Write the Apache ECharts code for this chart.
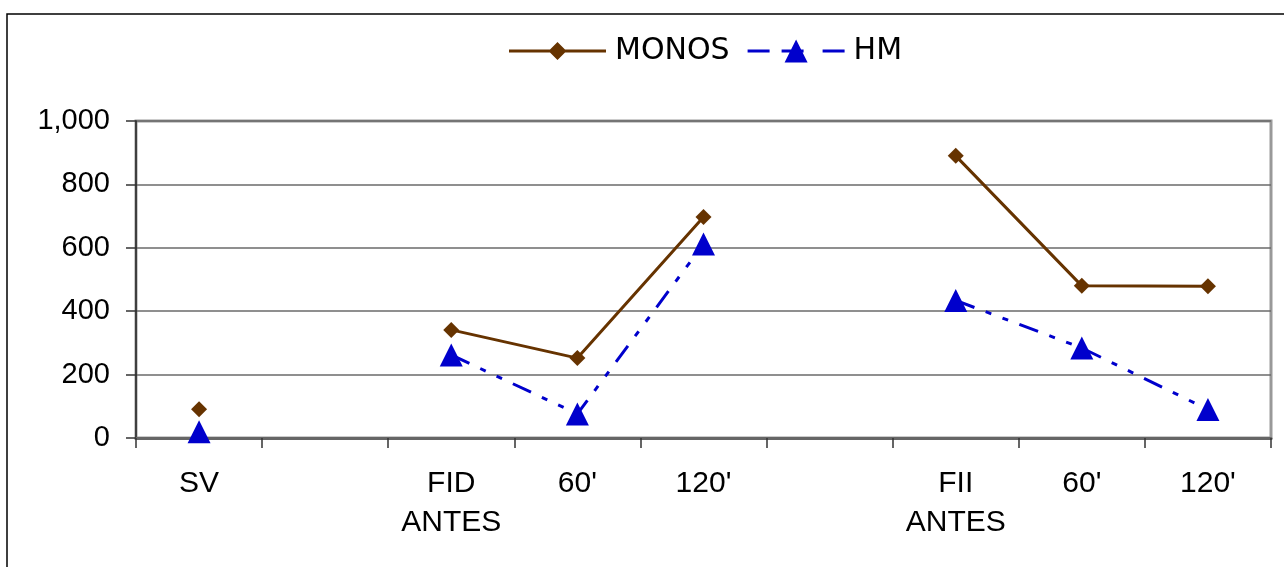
<!DOCTYPE html>
<html>
<head>
<meta charset="utf-8">
<title>MONOS / HM</title>
<script src="https://cdn.jsdelivr.net/npm/echarts@6/dist/echarts.min.js"></script>
<style>
  html, body { margin: 0; padding: 0; background: #fff; }
  #chart { width: 1284px; height: 567px; }
</style>
</head>
<body>
<div id="chart"></div>
<script>
// categorias del eje X (las vacias separan los grupos)
const categories = ['SV', '', 'FID\nANTES', "60'", "120'", '', 'FII\nANTES', "60'", "120'"];

// valores
const monos = [91, null, 341, 252, 697, null, 890, 480, 479];
const hm = [20, null, 262, 76, 612, null, 434, 284, 90];

// eje Y
const yMin = 0;
const yMax = 1000;
const yStep = 200;

const chart = echarts.init(document.getElementById('chart'));

const axisFont = 'Liberation Sans, Arial, sans-serif';

// iconos de la leyenda (linea + marcador), caja 97 x 24
const monosIcon = 'path://M0 0.01 H0.01 V0 Z M0 10.5 H97 V13.5 H0 Z M48.5 3 L57.5 12 L48.5 21 L39.5 12 Z M97 23.99 H96.99 V24 Z';
const hmIcon = 'path://M0 10.5 H22 V13.5 H0 Z M34 10.5 H56 V13.5 H34 Z M75 10.5 H97 V13.5 H75 Z M48.5 0.5 L60 23.5 L37 23.5 Z';

const option = {
  animation: false,
  backgroundColor: '#fff',
  graphic: [{
    // marco exterior
    type: 'rect',
    shape: { x: 7, y: 14, width: 1300, height: 600 },
    style: { fill: 'none', stroke: '#000', lineWidth: 1.5 },
    silent: true
  }],
  legend: {
    left: 504,
    top: 31,
    itemWidth: 97,
    itemHeight: 24,
    itemGap: 18,
    textStyle: {
      fontFamily: 'DejaVu Sans, Verdana, sans-serif',
      fontSize: 30,
      color: '#000',
      padding: [0, 0, 0, 4]
    },
    data: [
      { name: 'MONOS', icon: monosIcon },
      { name: 'HM', icon: hmIcon }
    ]
  },
  grid: {
    left: 136,
    right: 13,
    top: 121,
    bottom: 129,
    show: true,
    borderColor: '#999',
    borderWidth: 3
  },
  xAxis: {
    type: 'category',
    data: categories,
    boundaryGap: true,
    axisLine: { lineStyle: { color: '#666', width: 3 } },
    axisTick: { show: true, interval: 0, length: 10, lineStyle: { color: '#333', width: 1.5 } },
    axisLabel: {
      interval: 0,
      margin: 26,
      color: '#000',
      fontFamily: axisFont,
      fontSize: 30,
      lineHeight: 39
    },
    splitLine: { show: false }
  },
  yAxis: {
    type: 'value',
    min: yMin,
    max: yMax,
    interval: yStep,
    axisLine: { show: true, lineStyle: { color: '#222', width: 1.5 } },
    axisTick: { show: true, length: 10, lineStyle: { color: '#333', width: 1.5 } },
    axisLabel: {
      margin: 26,
      color: '#000',
      fontFamily: axisFont,
      fontSize: 29
    },
    splitLine: { show: true, lineStyle: { color: '#6a6a6a', width: 1.5 } }
  },
  series: [
    {
      name: 'MONOS',
      type: 'line',
      data: monos,
      connectNulls: false,
      symbol: 'diamond',
      symbolSize: 16,
      itemStyle: { color: '#663300' },
      lineStyle: { color: '#663300', width: 3 }
    },
    {
      name: 'HM',
      type: 'line',
      data: hm,
      connectNulls: false,
      symbol: 'triangle',
      symbolSize: 23,
      itemStyle: { color: '#0000CC' },
      lineStyle: { color: '#0000CC', width: 3, type: [20, 12, 6, 12, 6, 12] }
    }
  ]
};

chart.setOption(option);
</script>
</body>
</html>
